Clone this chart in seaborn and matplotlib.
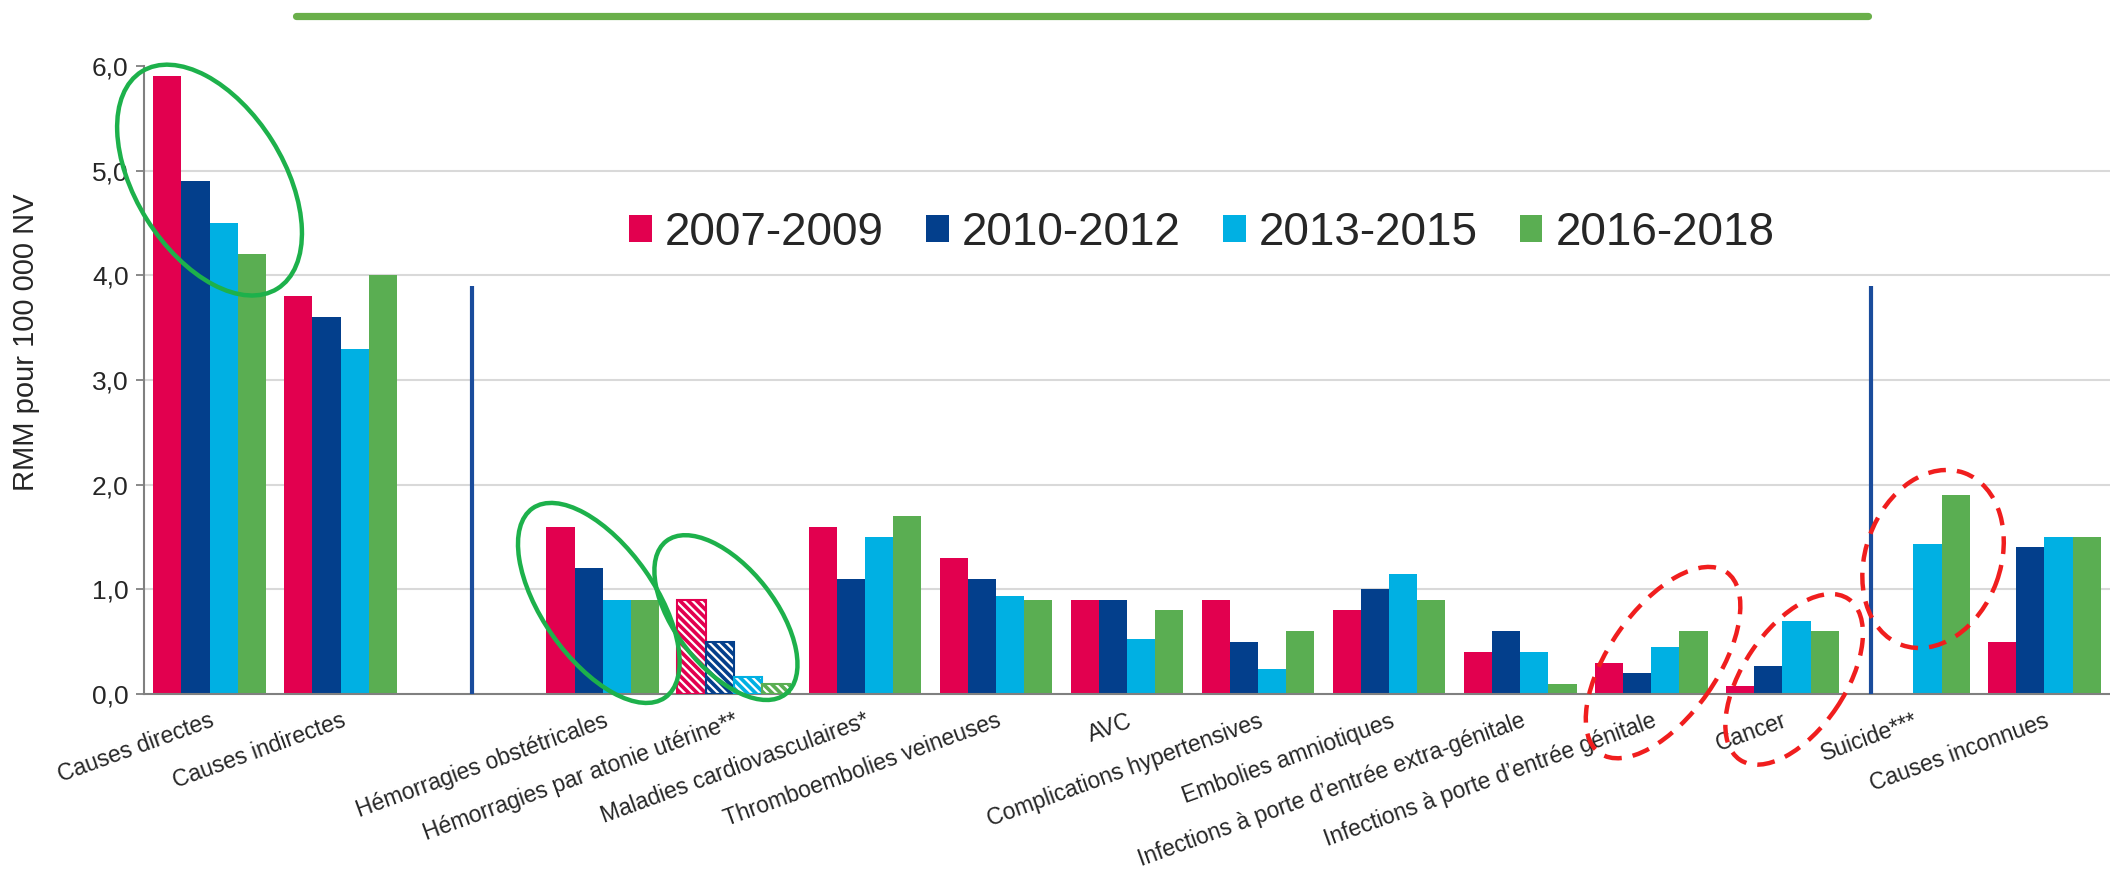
import numpy as np
import pandas as pd
import matplotlib
matplotlib.use("Agg")
import matplotlib.pyplot as plt
import seaborn as sns
from matplotlib.patches import Ellipse, Rectangle, Patch
from matplotlib.lines import Line2D
from matplotlib.transforms import IdentityTransform

# ---------------- data ----------------
categories = [
    "Causes directes", "Causes indirectes", " ",
    "Hémorragies obstétricales", "Hémorragies par atonie utérine**",
    "Maladies cardiovasculaires*", "Thromboembolies veineuses", "AVC",
    "Complications hypertensives", "Embolies amniotiques",
    "Infections à porte d’entrée extra-génitale",
    "Infections à porte d’entrée génitale", "Cancer", "Suicide***",
    "Causes inconnues",
]
periods = ["2007-2009", "2010-2012", "2013-2015", "2016-2018"]
nan = np.nan
v_2007_2009 = [5.9, 3.8, nan, 1.6, 0.9, 1.6, 1.3, 0.9, 0.9, 0.8, 0.4, 0.3, 0.08, nan, 0.5]
v_2010_2012 = [4.9, 3.6, nan, 1.2, 0.5, 1.1, 1.1, 0.9, 0.5, 1.0, 0.6, 0.2, 0.27, nan, 1.4]
v_2013_2015 = [4.5, 3.3, nan, 0.9, 0.16, 1.5, 0.94, 0.53, 0.24, 1.15, 0.4, 0.45, 0.7, 1.43, 1.5]
v_2016_2018 = [4.2, 4.0, nan, 0.9, 0.1, 1.7, 0.9, 0.8, 0.6, 0.9, 0.1, 0.6, 0.6, 1.9, 1.5]
y_ticks = [0, 1, 2, 3, 4, 5, 6]
y_ticklabels = ["0,0", "1,0", "2,0", "3,0", "4,0", "5,0", "6,0"]
y_label = "RMM pour 100 000 NV"
hatched_category = "Hémorragies par atonie utérine**"

colors = ["#E2004F", "#033F8C", "#00B0E3", "#5AAE52"]

# ---------------- frame ----------------
series = [v_2007_2009, v_2010_2012, v_2013_2015, v_2016_2018]
df = pd.DataFrame({
    "cause": np.tile(categories, len(periods)),
    "period": np.repeat(periods, len(categories)),
    "rmm": np.concatenate(series),
})

sns.set_theme(style="white")
plt.rcParams["font.family"] = ["Liberation Sans", "DejaVu Sans"]
plt.rcParams["hatch.linewidth"] = 1.6

W, H, DPI = 2110, 874, 100
fig = plt.figure(figsize=(W / DPI, H / DPI), dpi=DPI)
ax = fig.add_axes([144 / W, 1 - 694 / H, 1 - 144 / W, (694 - 66) / H])

BW = 0.86
sns.barplot(data=df, x="cause", y="rmm", hue="period", order=categories,
            hue_order=periods, palette=colors, saturation=1, width=BW,
            errorbar=None, legend=False, ax=ax, linewidth=0)

# hatched bars (atonie)
hidx = categories.index(hatched_category)
for p in list(ax.patches):
    cx = p.get_x() + p.get_width() / 2
    if abs(cx - hidx) < 0.5 and p.get_height() > 0:
        col = p.get_facecolor()
        p.set_edgecolor("white")
        p.set_hatch("\\\\\\\\")
        p.set_linewidth(0)
        ax.add_patch(Rectangle((p.get_x(), 0), p.get_width(), p.get_height(),
                               fill=False, edgecolor=col, linewidth=1.5, zorder=3))

ax.set_xlim(-0.5, len(categories) - 0.5)
ax.set_ylim(0, 6)
ax.set_yticks(y_ticks)
ax.set_yticklabels(y_ticklabels, fontsize=19)
ax.set_xticks(range(len(categories)))
ax.set_xticklabels(categories, rotation=20, ha="right", va="top",
                   rotation_mode="anchor", fontsize=16.5)
ax.set_xticks(np.arange(-0.5, len(categories)), minor=True)
ax.tick_params(axis="x", which="major", length=0, pad=11)
ax.tick_params(axis="x", which="minor", length=7, width=1.3, color="#808080", direction="out")
ax.tick_params(axis="y", length=6, width=1.3, color="#808080", direction="out", pad=5, left=True)
ax.set_xlabel("")
ax.set_ylabel(y_label, fontsize=21)
ax.yaxis.set_label_coords(-0.053, 0.56)

ax.grid(axis="y", color="#D9D9D9", linewidth=1.5)
ax.set_axisbelow(True)
gl = ax.get_ygridlines()
gl[0].set_visible(False)
gl[-1].set_visible(False)
for s in ["top", "right"]:
    ax.spines[s].set_visible(False)
for s in ["left", "bottom"]:
    ax.spines[s].set_color("#808080")
    ax.spines[s].set_linewidth(1.5)

# separator lines
sep1 = categories.index(" ")
sep2 = categories.index("Suicide***") - BW * 3 / 8
ax.vlines([sep1, sep2], 0, 3.9, color="#1A4C9C", linewidth=3, zorder=4)

# legend
handles = [Patch(facecolor=c, edgecolor="none") for c in colors]
fig.legend(handles, periods, loc="center left", bbox_to_anchor=(629 / W, 1 - 233 / H),
           ncol=4, frameon=False, fontsize=33, handlelength=0.5, handleheight=0.52,
           handletextpad=0.28, columnspacing=0.92, borderpad=0, borderaxespad=0)

# top decorative line
fig.add_artist(Line2D([296 / W, 1868 / W], [1 - 16 / H, 1 - 16 / H],
                      transform=fig.transFigure, color="#6AAF4A", linewidth=5.2))

# highlight ellipses (centres in data coordinates, sizes in pixels)
ellipses = [
    # (x, y, width_px, height_px, angle, colour, style)
    (0.0, 4.91, 256, 148, -58, "#1DB14B", "-"),
    (2.97, 0.87, 231, 113, -55, "#1DB14B", "-"),
    (3.94, 0.73, 194, 100, -52, "#1DB14B", "-"),
    (11.09, 0.30, 221, 108, 55, "#F01E1E", "--"),
    (12.09, 0.14, 194, 102, 56, "#F01E1E", "--"),
    (13.15, 1.29, 183, 135, 70, "#F01E1E", "--"),
]
for x, y, w, h, ang, c, ls in ellipses:
    cx, cy = ax.transData.transform((x, y))
    e = Ellipse((cx, cy), w, h, angle=ang, transform=IdentityTransform(),
                fill=False, edgecolor=c, linewidth=3.2, zorder=10)
    if ls == "--":
        e.set_linestyle((0, (4, 2.5)))
    fig.add_artist(e)

fig.savefig("out.png", dpi=DPI)
